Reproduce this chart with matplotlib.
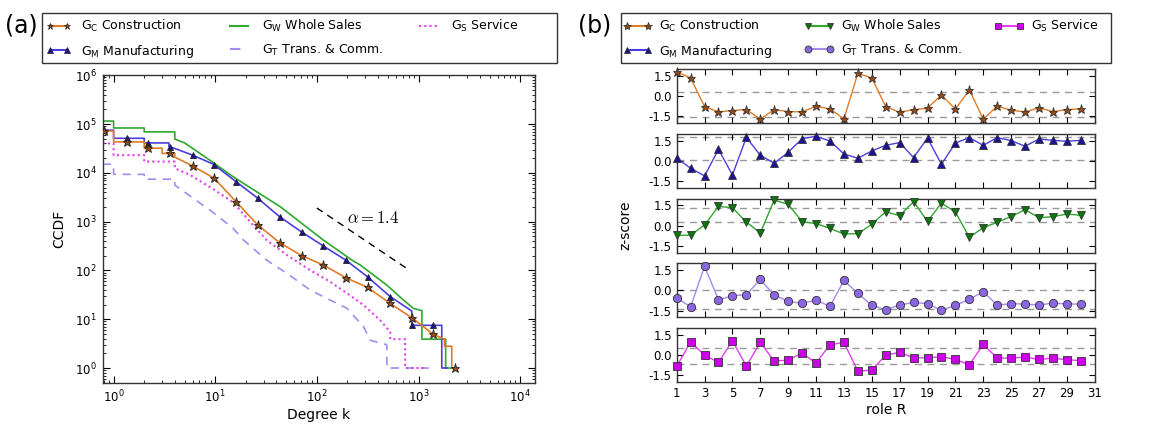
import numpy as np
import matplotlib
matplotlib.use("Agg")
import matplotlib.pyplot as plt
from matplotlib.lines import Line2D
from matplotlib.patches import Rectangle

plt.rcParams.update({
    "font.family": "DejaVu Sans",
    "mathtext.fontset": "dejavusans",
    "xtick.direction": "in",
    "ytick.direction": "in",
    "xtick.top": True,
    "ytick.right": True,
    "xtick.labelsize": 8.5,
    "ytick.labelsize": 8.5,
    "axes.labelsize": 10,
    "axes.edgecolor": "#333333",
    "axes.linewidth": 1.0,
    "legend.numpoints": 2,
    "legend.fontsize": 9,
})

# ---- panel (a): degree CCDF per sector graph ----
k_C = [0.78, 1, 1, 2, 2, 3, 3, 4, 4, 6, 9.8, 16, 26.3, 43, 71, 116, 192, 315, 527, 860, 1400, 1800, 1800, 2125, 2125, 2290]
c_C = [7.2e4, 7.2e4, 4.3e4, 4.3e4, 3.2e4, 3.2e4, 2.5e4, 2.5e4, 2.1e4, 1.38e4, 7.7e3, 2.56e3, 850, 370, 200, 129, 71, 45, 21, 10.7, 4.9, 3.9, 2.8, 2.8, 1, 1]

k_M = [0.78, 1, 1, 2, 2, 3.5, 3.5, 6, 9.6, 16, 26.3, 43, 71, 116, 192, 315, 527, 860, 860, 1694, 1694, 1900]
c_M = [7.5e4, 7.5e4, 5.1e4, 5.1e4, 4.1e4, 4.1e4, 3.5e4, 2.3e4, 1.5e4, 6.6e3, 3.0e3, 1260, 612, 316, 163, 74, 29, 14.7, 7.5, 7.5, 1, 1]

k_W = [0.78, 1, 1, 2, 2, 4, 4, 5, 8.9, 15, 43.6, 116, 221, 267, 488, 711, 891, 1080, 1080, 1850, 1850, 2290]
c_W = [1.15e5, 1.15e5, 8.3e4, 8.3e4, 6.9e4, 6.9e4, 4.9e4, 4.1e4, 1.8e4, 8.3e3, 2020, 418, 163, 129, 50, 24.7, 16.7, 15, 3.9, 3.9, 1, 1]

k_T = [0.78, 1, 1, 2, 2, 4, 4, 9.3, 15, 19, 32, 50.7, 86, 135, 198, 288, 335, 488, 488, 1400]
c_T = [1.5e4, 1.5e4, 9.3e3, 9.3e3, 7.4e3, 7.4e3, 5.6e3, 1600, 730, 418, 163, 87, 39.6, 24.7, 16.7, 7, 3.7, 3, 1, 1]

k_S = [0.78, 1, 1, 2, 2, 4, 4, 5.7, 9.6, 15, 22, 32, 50.7, 86, 135, 198, 288, 418, 527, 527, 738, 738, 1150]
c_S = [4.0e4, 4.0e4, 2.3e4, 2.3e4, 1.7e4, 1.7e4, 1.24e4, 9000, 4.6e3, 2.5e3, 1000, 418, 207, 101, 58.6, 34, 19.5, 9.6, 5.5, 3.9, 3.9, 1, 1]

# degree values where markers sit on the C and M curves
k_marks = [0.81, 1.35, 2.2, 3.6, 6.0, 9.8, 16, 26.3, 43, 71, 116, 192, 315, 527, 860, 1400, 2290]

# power-law guide
alpha = 1.4
k_guide = [100, 800]
c_guide_at_100 = 1900

# ---- panel (b): role z-scores ----
roles = np.arange(1, 31)
z_C = [1.80, 1.36, -0.77, -1.16, -1.06, -0.99, -1.70, -0.99, -1.14, -1.16,
       -0.74, -0.94, -1.68, 1.70, 1.36, -0.77, -1.19, -0.99, -0.89, 0.10,
       -0.96, 0.47, -1.70, -0.74, -1.04, -1.16, -0.86, -1.14, -0.99, -0.94]
z_M = [0.22, -0.54, -1.11, 0.86, -1.04, 1.75, 0.42, -0.17, 0.64, 1.65,
       1.83, 1.48, 0.52, 0.20, 0.74, 1.16, 1.36, 0.25, 1.70, -0.25,
       1.33, 1.73, 1.16, 1.73, 1.51, 1.09, 1.63, 1.53, 1.46, 1.53]
z_W = [-0.72, -0.70, 0.05, 1.43, 1.33, 0.27, -0.54, 1.90, 1.58, 0.30,
       0.15, -0.20, -0.62, -0.59, 0.10, 1.04, 0.74, 1.78, 0.32, 1.68,
       1.01, -0.86, -0.15, 0.25, 0.67, 1.19, 0.59, 0.67, 0.86, 0.77]
z_T = [-0.57, -1.21, 1.78, -0.69, -0.40, -0.32, 0.81, -0.35, -0.81, -0.96,
       -0.72, -1.19, 0.74, -0.22, -1.11, -1.43, -1.09, -0.89, -0.99, -1.48,
       -1.11, -0.67, -0.10, -1.09, -0.99, -1.01, -1.09, -0.94, -1.01, -1.01]
z_S = [-0.84, 0.99, 0.00, -0.54, 1.06, -0.81, 0.94, -0.44, -0.37, 0.15,
       -0.59, 0.77, 0.94, -1.19, -1.11, 0.00, 0.20, -0.20, -0.20, -0.12,
       -0.32, -0.72, 0.79, -0.22, -0.22, -0.15, -0.32, -0.22, -0.35, -0.40]
# dashed reference levels per sector
bands = {
    "C": (0.32, -1.56),
    "M": (1.75, 0.05),
    "W": (1.28, 0.27),
    "T": (0.02, -1.36),
    "S": (0.52, -0.69),
}

labels = {
    "C": r"G$_\mathrm{C}$ Construction",
    "M": r"G$_\mathrm{M}$ Manufacturing",
    "W": r"G$_\mathrm{W}$ Whole Sales",
    "T": r"G$_\mathrm{T}$ Trans. & Comm.",
    "S": r"G$_\mathrm{S}$ Service",
}

# line colour, marker, marker face
style = {
    "C": dict(color="#e07b25", marker="*", mfc="#9a4a14", ms=7),
    "M": dict(color="#4a3ee0", marker="^", mfc="#1c1296", ms=6),
    "W": dict(color="#2ea82e", marker="v", mfc="#0b760b", ms=6),
    "T": dict(color="#a58af0", marker="o", mfc="#8a66e0", ms=6),
    "S": dict(color="#e040f0", marker="s", mfc="#cc00e6", ms=6),
}

W, H = 1152, 425
fig = plt.figure(figsize=(W / 100, H / 100), dpi=100)


def px(x, y):
    """pixel position (from top-left) -> figure fraction"""
    return x / W, 1 - y / H


def legend_box(x0, x1, y0=12.7, y1=63.3):
    fig.add_artist(Rectangle(px(x0, y1), (x1 - x0) / W, (y1 - y0) / H,
                             transform=fig.transFigure, fill=False,
                             edgecolor="#333333", lw=1.0))


leg_kw = dict(ncol=3, loc="upper left", frameon=False, bbox_transform=fig.transFigure,
              borderaxespad=0.0, borderpad=0.0, labelspacing=0.7, columnspacing=2.6)

# ---------------- (a) ----------------
ax = fig.add_axes([0.0891, 0.0995, 0.3753, 0.7235])
ax.set_xscale("log")
ax.set_yscale("log")

curves = {"C": (k_C, c_C), "M": (k_M, c_M), "W": (k_W, c_W), "T": (k_T, c_T), "S": (k_S, c_S)}
ax.plot(k_W, c_W, color=style["W"]["color"], lw=1.2, zorder=2)
ax.plot(k_M, c_M, color=style["M"]["color"], lw=1.2, zorder=3)
ax.plot(k_C, c_C, color=style["C"]["color"], lw=1.2, zorder=4)
ax.plot(k_T, c_T, color=style["T"]["color"], lw=1.2, ls=(0, (5, 4)), zorder=2)
ax.plot(k_S, c_S, color=style["S"]["color"], lw=1.5, ls=(0, (1, 1.5)), zorder=2)

for key, mk in (("M", "^"), ("C", "*")):
    kk, cc = curves[key]
    km = np.array([k for k in k_marks if k <= max(kk)])
    cm = 10 ** np.interp(np.log10(km), np.log10(kk), np.log10(cc))
    ax.plot(km, cm, ls="none", marker=mk, mfc=style[key]["mfc"], mec="#222222",
            mew=0.6, ms=5 if mk == "^" else 6.5, zorder=5)

c_guide = [c_guide_at_100 * (k / 100) ** (-alpha) for k in k_guide]
ax.plot(k_guide, c_guide, color="black", lw=1.0, ls=(0, (5, 4)))
ax.text(197, 1180, r"$\alpha=1.4$", fontsize=12, math_fontfamily="cm", va="center")

ax.set_xlim(0.78, 1.4e4)
ax.set_ylim(0.5, 1e6)
ax.set_xlabel("Degree k", labelpad=2)
ax.set_ylabel("CCDF", labelpad=6)
ax.tick_params(which="major", length=5, pad=4.5)
ax.tick_params(which="minor", length=2.5)

handles_a = [
    Line2D([], [], color=style["C"]["color"], marker="*", mfc=style["C"]["mfc"], mec="#222222", mew=0.5, ms=5),
    Line2D([], [], color=style["M"]["color"], marker="^", mfc=style["M"]["mfc"], mec="#222222", mew=0.5, ms=4),
    Line2D([], [], color=style["W"]["color"]),
    Line2D([], [], color=style["T"]["color"], ls=(0, (5, 4))),
    Line2D([], [], color=style["S"]["color"], ls=(0, (1, 1.5)), lw=1.5),
]
fig.legend(handles_a, [labels[k] for k in "CMWTS"], bbox_to_anchor=px(46, 18),
           handlelength=2.0, handletextpad=0.8, **leg_kw)
legend_box(42, 557)
fig.text(*px(5, 26), "(a)", fontsize=17, va="center")

# ---------------- (b) ----------------
gs = fig.add_gridspec(5, 1, left=0.5874, right=0.9503, top=0.837, bottom=0.101, hspace=0.2)
series_b = {"C": z_C, "M": z_M, "W": z_W, "T": z_T, "S": z_S}
axes_b = []
for i, key in enumerate("CMWTS"):
    axb = fig.add_subplot(gs[i])
    axes_b.append(axb)
    for lvl in bands[key]:
        axb.axhline(lvl, color="#999999", lw=1.0, ls=(0, (5, 4)), zorder=1)
    s = style[key]
    axb.plot(roles, series_b[key], color=s["color"], lw=1.0, marker=s["marker"],
             mfc=s["mfc"], mec="#333333", mew=0.6, ms=s["ms"] if key != "C" else 6.5,
             zorder=3, clip_on=False)
    axb.set_xlim(1, 31)
    axb.set_ylim(-2, 2)
    axb.set_yticks([-1.5, 0.0, 1.5])
    axb.set_yticklabels(["-1.5", "0.0", "1.5"])
    axb.set_xticks(np.arange(1, 32, 2))
    axb.tick_params(length=4)
    if i < 4:
        axb.set_xticklabels([])
axes_b[-1].set_xlabel("role R", labelpad=2)
axes_b[2].set_ylabel("z-score")
axes_b[2].yaxis.set_label_coords(-0.105, 0.5)

handles_b = [
    Line2D([], [], color=style[k]["color"], marker=style[k]["marker"], mfc=style[k]["mfc"],
           mec="#333333", mew=0.6, ms=style[k]["ms"] - 1)
    for k in "CMWTS"
]
fig.legend(handles_b, [labels[k] for k in "CMWTS"], bbox_to_anchor=px(623, 18),
           handlelength=2.33, handletextpad=0.55, **leg_kw)
legend_box(620.7, 1111)
fig.text(*px(578, 26), "(b)", fontsize=17, va="center")

fig.savefig("out.png", dpi=100, facecolor="white")
